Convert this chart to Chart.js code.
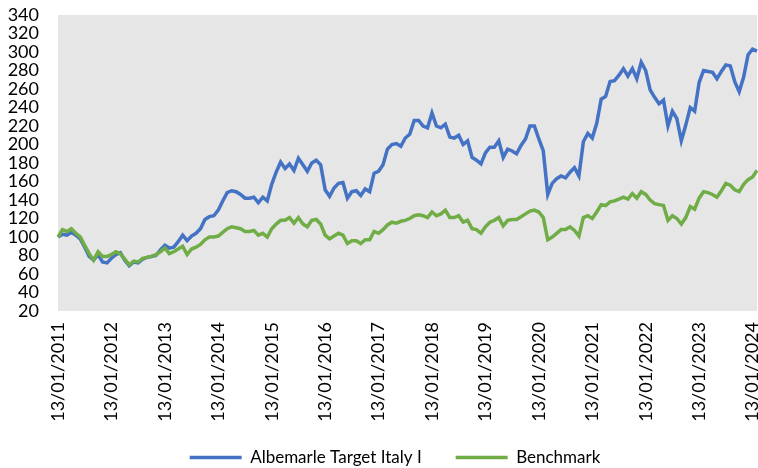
<!DOCTYPE html>
<html><head><meta charset="utf-8">
<script src="https://cdn.jsdelivr.net/npm/chart.js@4.4.1/dist/chart.umd.min.js"></script>
<style>html,body{margin:0;padding:0;background:#fff}</style>
</head><body>
<canvas id="c" width="758" height="468" style="display:block;width:758px;height:468px"></canvas>
<script>
const fundName = 'Albemarle Target Italy I';
const benchName = 'Benchmark';

// monthly values, 13/01/2011 .. 13/02/2024
const fundValues = [
  100,103,102,105,102,98,89,79,75,81,73,72,
  77,81,83,75,69,73,72,76,78,79,80,86,
  91,88,89,95,102,96,101,104,109,119,122,123,
  129,139,148,150,149,146,142,142,143,137,143,139,
  157,170,181,174,179,172,185,178,171,180,183,178,
  151,144,153,158,159,142,149,150,145,152,149,169,
  171,178,195,200,201,198,207,211,226,226,220,218,
  234,220,218,222,208,207,210,200,204,186,183,179,
  191,197,197,204,186,195,193,190,199,206,220,220,
  206,193,146,158,163,166,164,170,175,166,203,212,
  207,223,249,252,268,269,275,282,274,282,271,289,
  280,259,251,244,248,220,236,228,204,221,240,236,
  267,280,279,278,271,279,286,285,268,257,273,297,
  303,301
];
const benchValues = [
  100,108,106,109,104,100,91,82,75,84,79,79,
  81,84,82,76,70,74,73,77,78,79,81,84,
  88,82,84,87,90,81,87,89,92,97,100,100,
  101,105,109,111,110,109,106,106,107,102,104,100,
  109,114,118,118,121,115,121,114,111,118,119,114,
  102,98,101,104,102,93,96,96,93,97,97,106,
  104,108,113,116,115,117,118,120,123,124,123,121,
  127,123,125,129,121,121,123,116,118,109,108,104,
  111,116,118,121,112,118,119,119,122,125,128,129,
  127,121,97,100,104,108,108,111,107,101,121,123,
  120,127,135,134,138,139,141,143,141,147,142,149,
  146,140,136,135,134,118,123,120,114,121,133,130,
  142,149,148,146,143,150,158,156,151,149,157,162,
  165,172
];

const yMin = 20, yMax = 340, yStep = 20;
const firstYear = 2011;

const dates = fundValues.map((_, i) => {
  const m = (i % 12) + 1;
  const y = firstYear + Math.floor(i / 12);
  return '13/' + String(m).padStart(2, '0') + '/' + y;
});

const bgPlugin = {
  id: 'bg',
  beforeDraw(chart) {
    const {ctx, chartArea: a} = chart;
    ctx.save();
    ctx.fillStyle = '#ffffff';
    ctx.fillRect(0, 0, chart.width, chart.height);
    ctx.fillStyle = '#e6e6e6';
    ctx.fillRect(a.left, a.top, a.right - a.left, a.bottom - a.top);
    ctx.restore();
  }
};

const noClip = () => undefined;

new Chart(document.getElementById('c'), {
  type: 'line',
  data: {
    labels: dates,
    datasets: [
      {label: fundName, data: fundValues, borderColor: '#4472C4', backgroundColor: '#4472C4',
       borderWidth: 3.5, pointRadius: 0, tension: 0, fill: false, order: 1},
      {label: benchName, data: benchValues, borderColor: '#70AD47', backgroundColor: '#70AD47',
       borderWidth: 3.5, pointRadius: 0, tension: 0, fill: false, order: 0}
    ]
  },
  options: {
    responsive: false,
    animation: false,
    devicePixelRatio: 1,
    layout: {padding: {left: 33, right: 1, top: 15, bottom: -8}},
    plugins: {
      legend: {
        position: 'bottom',
        labels: {
          usePointStyle: true, pointStyle: 'line', pointStyleWidth: 52,
          padding: 34, color: '#000',
          font: {family: 'Lato', size: 17},
          sort: (a, b) => a.datasetIndex - b.datasetIndex
        }
      },
      tooltip: {enabled: false}
    },
    scales: {
      x: {
        type: 'category', offset: false,
        grid: {display: false, drawTicks: false}, border: {display: false},
        ticks: {
          autoSkip: false, maxRotation: 90, minRotation: 90, padding: 11,
          color: '#000', font: {family: 'Lato', size: 18},
          callback: function (v) {
            const l = this.getLabelForValue(v);
            return l.substr(3, 2) === '01' ? l : null;
          }
        },
        afterFit(s) { s.height = 104; s.paddingLeft = 0; s.paddingRight = 0; s._computeLabelArea = noClip; }
      },
      y: {
        min: yMin, max: yMax,
        grid: {display: false, drawTicks: false}, border: {display: false},
        ticks: {stepSize: yStep, autoSkip: false, padding: 19, color: '#000', font: {family: 'Lato', size: 18}},
        afterFit(s) { s.width = 25; s.paddingTop = 0; s.paddingBottom = 0; s._computeLabelArea = noClip; }
      }
    }
  },
  plugins: [bgPlugin]
});
</script>
</body></html>
